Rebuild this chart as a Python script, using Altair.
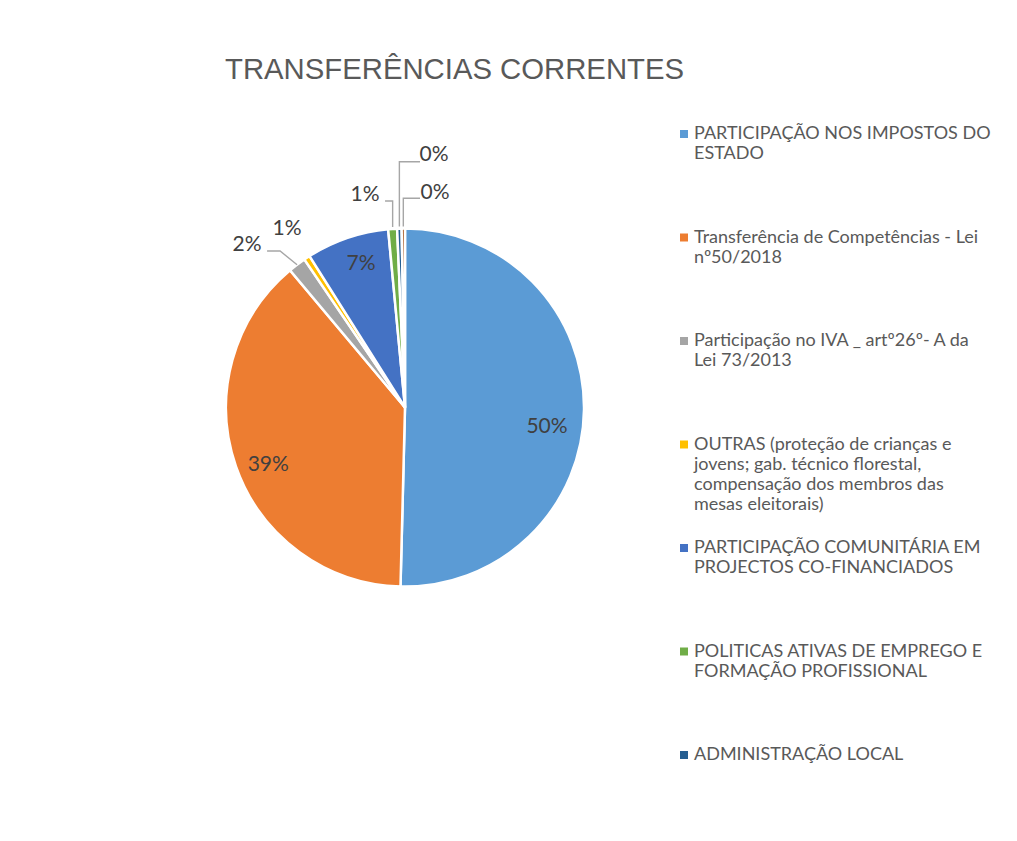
import math
import altair as alt
import pandas as pd

# ---------------- data ----------------
TITLE = "TRANSFERÊNCIAS CORRENTES"
CATEGORIES = [
    "PARTICIPAÇÃO NOS IMPOSTOS DO ESTADO",
    "Transferência de Competências - Lei nº50/2018",
    "Participação no IVA _ artº26º- A da Lei 73/2013",
    "OUTRAS (proteção de crianças e jovens; gab. técnico florestal, compensação dos membros das mesas eleitorais)",
    "PARTICIPAÇÃO COMUNITÁRIA EM PROJECTOS CO-FINANCIADOS",
    "POLITICAS ATIVAS DE EMPREGO E FORMAÇÃO PROFISSIONAL",
    "ADMINISTRAÇÃO LOCAL",
    "(série sem legenda visível)",
]
VALUES = [50.4, 38.5, 1.6, 0.55, 7.45, 0.8, 0.4, 0.3]
LABELS = ["50%", "39%", "2%", "1%", "7%", "1%", "0%", "0%"]
LEGEND_LINES = [
    ["PARTICIPAÇÃO NOS IMPOSTOS DO", "ESTADO"],
    ["Transferência de Competências - Lei", "nº50/2018"],
    ["Participação no IVA _ artº26º- A da", "Lei 73/2013"],
    ["OUTRAS (proteção de crianças e", "jovens; gab. técnico florestal,",
     "compensação dos membros das", "mesas eleitorais)"],
    ["PARTICIPAÇÃO COMUNITÁRIA EM", "PROJECTOS CO-FINANCIADOS"],
    ["POLITICAS ATIVAS DE EMPREGO E", "FORMAÇÃO PROFISSIONAL"],
    ["ADMINISTRAÇÃO LOCAL"],
]
COLORS = ["#5B9BD5", "#ED7D31", "#A5A5A5", "#FFC000", "#4472C4", "#70AD47", "#255E91", "#9E480E"]

# ---------------- layout / style ----------------
W, H = 1001, 735
PAD_TOP = 80
CX, CY = 397, 319.5          # pie centre inside the plot area (px)
R = 179                      # pie radius (px)
INSIDE_R = 147
INSIDE = [True, True, False, False, True, False, False, False]
# label nudges (dx, dy screen px) from the label anchor
LABEL_NUDGE = [(-5, 17.7), (2, 9), (-50, -19.7), (-19.9, -28.75),
               (3.4, -4.3), (-27.6, -33.9), (34.6, -73.6), (31.7, -35.5)]
# leader line vertices (dx, dy screen px) from the slice's outer edge point
LEADERS = {
    2: [(0, 0), (-17, -13.7), (-30, -13.7)],
    5: [(0, -2), (0, -28), (-7.6, -28)],
    6: [(0, -2), (0, -66.8), (20.6, -66.8)],
    7: [(0, -2), (0, -30.2), (16.7, -30.2)],
}

total = sum(VALUES)
rows, lrows = [], []
cum = 0.0
for i, (c, v, lab) in enumerate(zip(CATEGORIES, VALUES, LABELS)):
    mid = (cum + v / 2) / total * 2 * math.pi
    cum += v
    r = INSIDE_R if INSIDE[i] else R
    ex, ey = R * math.sin(mid), R * math.cos(mid)
    ax, ay = r * math.sin(mid), r * math.cos(mid)
    ndx, ndy = LABEL_NUDGE[i]
    rows.append({"idx": i, "category": c, "value": v, "label": lab,
                 "lx": ax + ndx, "ly": ay - ndy})
    for k, (dx, dy) in enumerate(LEADERS.get(i, [])):
        lrows.append({"idx": i, "k": k, "x": ex + dx, "y": ey - dy})

df = pd.DataFrame(rows)
ldf = pd.DataFrame(lrows)

xsc = alt.Scale(domain=[-CX, W - CX], nice=False, zero=False)
ysc = alt.Scale(domain=[-(H - CY), CY], nice=False, zero=False)

label_expr = ""
for c, lines in zip(CATEGORIES[:7], LEGEND_LINES):
    padded = lines + [""] * (4 - len(lines))
    arr = "[" + ",".join("'" + s + "'" for s in padded) + "]"
    label_expr += f"datum.label === '{c}' ? {arr} : "
label_expr += "datum.label"

legend = alt.Legend(
    title=None, orient="none", legendX=667, legendY=37,
    values=CATEGORIES[:7], labelExpr=label_expr,
    labelFont="Lato", labelFontSize=18, labelColor="#595959",
    labelBaseline="middle", labelOffset=1, labelLimit=500,
    symbolType="square", symbolSize=64, symbolStrokeWidth=0,
    rowPadding=25.5, padding=0,
)

arc = alt.Chart(df).mark_arc(radius=R, stroke="white", strokeWidth=2.5).encode(
    theta=alt.Theta("value:Q", stack=True),
    order=alt.Order("idx:Q"),
    color=alt.Color("category:N", scale=alt.Scale(domain=CATEGORIES, range=COLORS),
                    sort=CATEGORIES, legend=legend),
    x=alt.XDatum(0, type="quantitative", scale=xsc, axis=None),
    y=alt.YDatum(0, type="quantitative", scale=ysc, axis=None),
)

leaders = alt.Chart(ldf).mark_line(color="#A6A6A6", strokeWidth=1.4).encode(
    x=alt.X("x:Q", scale=xsc, axis=None),
    y=alt.Y("y:Q", scale=ysc, axis=None),
    detail="idx:N",
    order="k:Q",
)

texts = alt.Chart(df).mark_text(font="Lato", fontSize=21, color="#404040",
                                 align="center", baseline="middle").encode(
    x=alt.X("lx:Q", scale=xsc, axis=None),
    y=alt.Y("ly:Q", scale=ysc, axis=None),
    text="label:N",
)

chart = alt.layer(arc, leaders, texts).properties(
    width=W, height=H,
    padding={"top": PAD_TOP, "left": 0, "right": 0, "bottom": 0},
    autosize=alt.AutoSizeParams(type="none"),
    title=alt.TitleParams(TITLE, anchor="start", dx=217, offset=3,
                          font="Liberation Sans", fontSize=29.3,
                          fontWeight="normal", color="#595959"),
).configure_view(stroke=None)

chart.save("out.html", embed_options={"renderer": "svg", "actions": False})
